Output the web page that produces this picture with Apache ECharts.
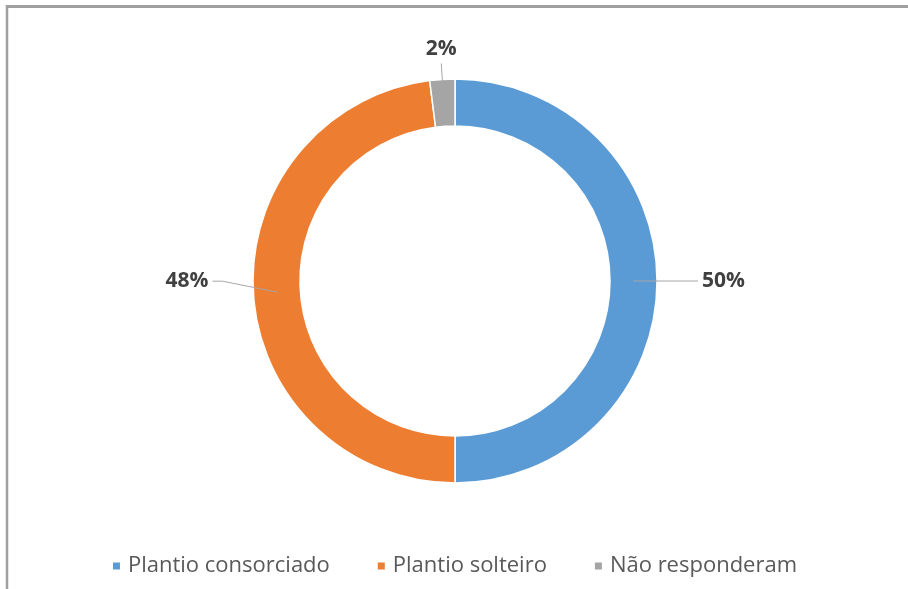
<!DOCTYPE html>
<html>
<head>
<meta charset="utf-8">
<script src="https://cdn.jsdelivr.net/npm/echarts@6/dist/echarts.min.js"></script>
<style>
html,body{margin:0;padding:0;background:#fff;}
#c{width:908px;height:589px;}
</style>
</head>
<body>
<div id="c"></div>
<script>
const categories = ['Plantio consorciado', 'Plantio solteiro', 'Não responderam'];
const values = [50, 48, 2];
const colors = ['#5B9BD5', '#ED7D31', '#A5A5A5'];

const chart = echarts.init(document.getElementById('c'));
const center = [455, 281];
const donutData = categories.map((n, i) => ({name: n, value: values[i], itemStyle: {color: colors[i]}}));
const labelData = categories.map((n, i) => {
  const d = {name: n, value: values[i]};
  if (i === 2) d.labelLine = {length: 40, length2: 0};
  return d;
});

chart.setOption({
  animation: false,
  legend: {
    data: categories,
    bottom: 7,
    left: 'center',
    icon: 'rect',
    itemWidth: 9,
    itemHeight: 9,
    itemGap: 46,
    textStyle: {fontFamily: 'Open Sans', fontSize: 22, color: '#595959', padding: [0, 0, 0, 2]}
  },
  graphic: [
    {type: 'line', shape: {x1: 6, y1: 6.5, x2: 908, y2: 6.5}, style: {stroke: '#a0a0a0', lineWidth: 3}},
    {type: 'line', shape: {x1: 7, y1: 5, x2: 7, y2: 589}, style: {stroke: '#a0a0a0', lineWidth: 2.5}}
  ],
  series: [
    {
      type: 'pie',
      center: center,
      radius: [155, 202],
      startAngle: 90,
      clockwise: true,
      data: donutData,
      label: {show: false},
      labelLine: {show: false},
      itemStyle: {borderColor: '#fff', borderWidth: 1.5},
      emphasis: {disabled: true},
      z: 2
    },
    {
      type: 'pie',
      center: center,
      radius: [0, 178],
      startAngle: 90,
      clockwise: true,
      data: labelData,
      itemStyle: {color: 'rgba(0,0,0,0)'},
      emphasis: {disabled: true},
      legendHoverLink: false,
      label: {
        show: true,
        position: 'outside',
        formatter: '{d}%',
        fontFamily: 'Open Sans',
        fontWeight: 'bold',
        fontSize: 21,
        color: '#404040',
        distanceToLabelLine: 4
      },
      labelLine: {
        show: true,
        length: 55,
        length2: 10,
        lineStyle: {color: '#a6a6a6', width: 1}
      },
      labelLayout: function (p) {
        const pts = p.labelLinePoints;
        if (!pts) return {};
        if (p.dataIndex === 2) {
          const e = pts[1];
          return {x: e[0], y: e[1] - 4, align: 'center', verticalAlign: 'bottom', labelLinePoints: [pts[0], e, e]};
        }
        if (p.dataIndex === 1) {
          const ny = pts[0][1] - 11;
          return {y: ny, labelLinePoints: [pts[0], [pts[1][0], ny], [pts[2][0], ny]]};
        }
        return {};
      },
      z: 3
    }
  ]
});
</script>
</body>
</html>
